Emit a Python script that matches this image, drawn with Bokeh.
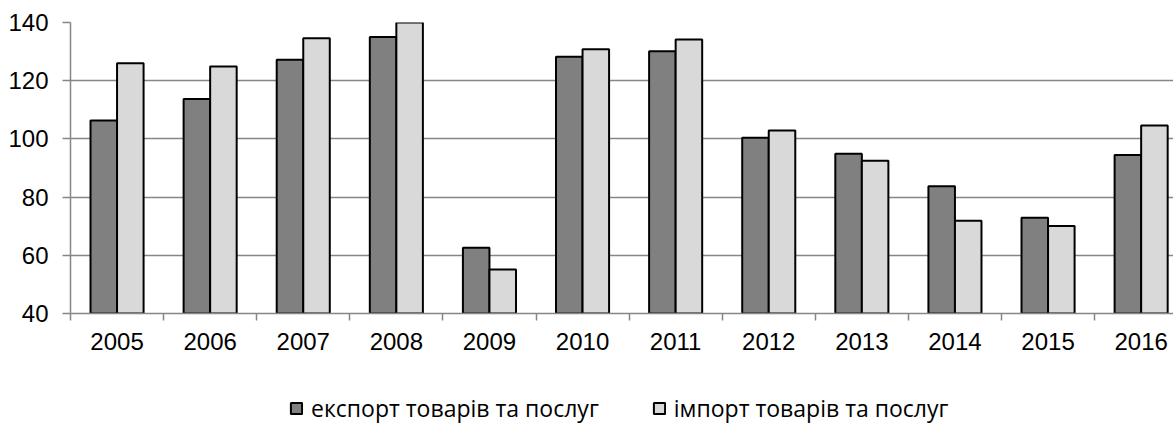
from bokeh.plotting import figure
from bokeh.models import ColumnDataSource, FixedTicker, Legend, LegendItem, Range1d
from bokeh.layouts import column
from bokeh.embed import file_html
from bokeh.resources import INLINE

years = ["2005", "2006", "2007", "2008", "2009", "2010", "2011", "2012", "2013", "2014", "2015", "2016"]
export_vals = [106.3, 113.7, 127.2, 135.0, 62.6, 128.2, 130.1, 100.4, 94.9, 83.7, 72.9, 94.5]
import_vals = [126.0, 124.9, 134.6, 140.0, 55.1, 130.8, 134.2, 102.9, 92.5, 71.9, 70.1, 104.6]
y_ticks = [40, 60, 80, 100, 120, 140]
series_names = ["експорт товарів та послуг", "імпорт товарів та послуг"]

centers = [i + 0.5 for i in range(len(years))]
bar_w = 0.285
off = 0.1425

src = ColumnDataSource(dict(
    xe=[c - off for c in centers],
    xi=[c + off for c in centers],
    exp=export_vals,
    imp=import_vals,
))

W = 1173
H1, H2 = 360, 65
left, top = 70, 22
bottom = H1 - 313
frame_w = W - left
slot_px = 93.1

p = figure(width=W, height=H1, output_backend="svg", toolbar_location=None,
           x_range=Range1d(0, frame_w / slot_px), y_range=Range1d(40, 140),
           min_border_left=left, min_border_right=0, min_border_top=top,
           min_border_bottom=bottom)
p.outline_line_color = None
p.background_fill_color = "white"
p.border_fill_color = "white"

bar_style_e = dict(fill_color="#808080", line_color="black", line_width=2)
bar_style_i = dict(fill_color="#d9d9d9", line_color="black", line_width=2)

p.vbar(x="xe", top="exp", bottom=40, width=bar_w, source=src, **bar_style_e)
p.vbar(x="xi", top="imp", bottom=40, width=bar_w, source=src, **bar_style_i)

# x axis
p.xaxis.ticker = FixedTicker(ticks=centers, minor_ticks=list(range(len(years) + 1)))
p.xaxis.major_label_overrides = {c: y for c, y in zip(centers, years)}
p.xaxis.major_tick_out = 0
p.xaxis.major_tick_in = 0
p.xaxis.minor_tick_out = 7
p.xaxis.minor_tick_in = 0
p.xaxis.minor_tick_line_color = "#868686"
p.xaxis.minor_tick_line_width = 1.5
p.xaxis.axis_line_color = "#868686"
p.xaxis.axis_line_width = 1.5
p.xaxis.major_label_standoff = 12
p.xaxis.major_label_text_font = "Liberation Sans"
p.xaxis.major_label_text_font_size = "24px"
p.xaxis.major_label_text_color = "black"
p.xgrid.grid_line_color = None

# y axis
p.yaxis.ticker = FixedTicker(ticks=y_ticks)
p.yaxis.major_tick_out = 8
p.yaxis.major_tick_in = 0
p.yaxis.minor_tick_line_color = None
p.yaxis.major_tick_line_color = "#868686"
p.yaxis.major_tick_line_width = 1.5
p.yaxis.axis_line_color = "#868686"
p.yaxis.axis_line_width = 1.5
p.yaxis.major_label_standoff = 14
p.yaxis.major_label_text_font = "Liberation Sans"
p.yaxis.major_label_text_font_size = "24px"
p.yaxis.major_label_text_color = "black"
p.ygrid.grid_line_color = "#868686"
p.ygrid.grid_line_width = 1.5
p.ygrid.ticker = FixedTicker(ticks=y_ticks)

# legend strip below the chart (frame aligned with the chart's frame by the column layout)
p2 = figure(width=W, height=H2, output_backend="svg", toolbar_location=None,
            x_range=p.x_range, y_range=Range1d(0, 1),
            x_axis_location=None, y_axis_location=None,
            min_border_left=0, min_border_right=0, min_border_top=0,
            min_border_bottom=0)
p2.outline_line_color = None
p2.grid.grid_line_color = None
p2.background_fill_color = "white"
p2.border_fill_color = "white"
le = p2.vbar(x="xe", top="exp", bottom=40, width=bar_w, source=src, visible=False, **bar_style_e)
li = p2.vbar(x="xi", top="imp", bottom=40, width=bar_w, source=src, visible=False, **bar_style_i)

legend = Legend(items=[LegendItem(label=series_names[0], renderers=[le]),
                       LegendItem(label=series_names[1], renderers=[li])],
                orientation="horizontal", location=(219, 1),
                glyph_width=14, glyph_height=14, label_standoff=8, spacing=53,
                padding=0, margin=0, border_line_color=None,
                background_fill_alpha=0, inactive_fill_alpha=0,
                label_text_font="Open Sans", label_text_font_size="23px",
                label_text_color="black")
p2.add_layout(legend, "center")

layout = column(p, p2, spacing=0)
open("out.html", "w").write(file_html(layout, INLINE))
